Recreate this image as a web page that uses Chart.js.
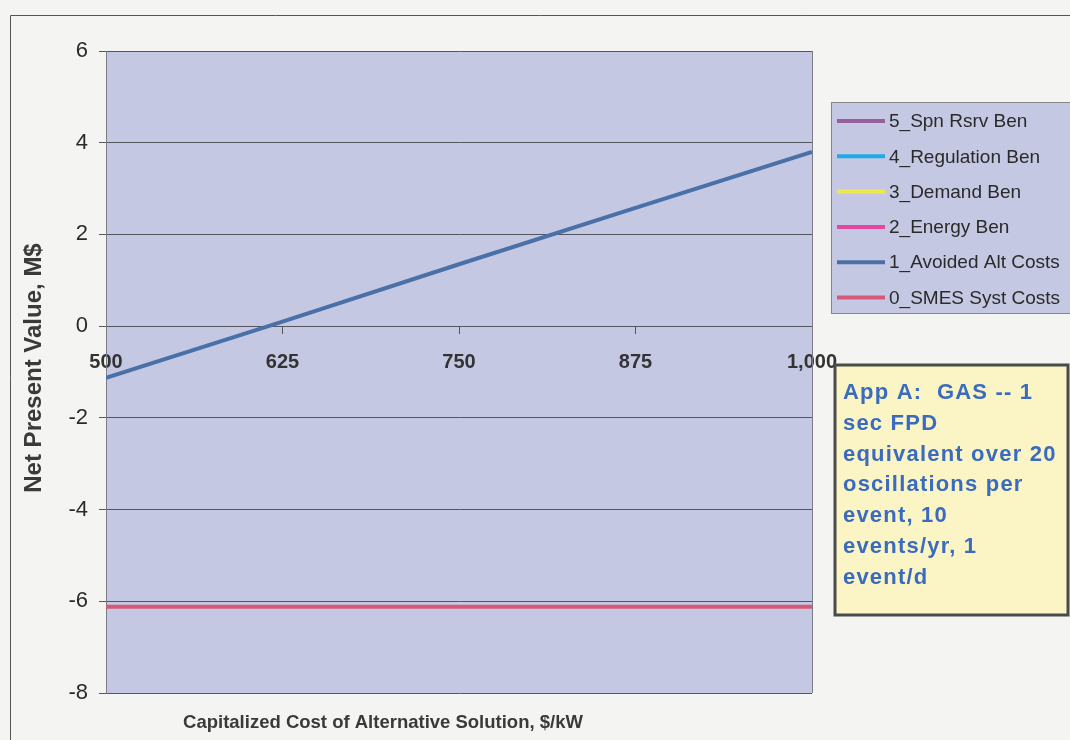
<!DOCTYPE html>
<html>
<head>
<meta charset="utf-8">
<script src="https://cdn.jsdelivr.net/npm/chart.js@4.4.1/dist/chart.umd.min.js"></script>
<style>
  html, body { margin: 0; padding: 0; background: #f4f4f2; }
  canvas { display: block; }
</style>
</head>
<body>
<canvas id="npv" width="1070" height="740"></canvas>
<script>
// Capitalized cost of the alternative solution, $/kW
const costPerKW = [500, 625, 750, 875, 1000];

// Net present value of each component, M$
const smesSystCosts   = [-6.12, -6.12, -6.12, -6.12, -6.12];
const avoidedAltCosts = [-1.13, 0.10, 1.35, 2.58, 3.80];
const energyBen       = [];
const demandBen       = [];
const regulationBen   = [];
const spnRsrvBen      = [];

const seriesNames = [
  '0_SMES Syst Costs',
  '1_Avoided Alt Costs',
  '2_Energy Ben',
  '3_Demand Ben',
  '4_Regulation Ben',
  '5_Spn Rsrv Ben'
];
const seriesColors = ['#d65a78', '#4a70a8', '#e646a0', '#f0e650', '#1eaae6', '#96609a'];

const yTicks = [-8, -6, -4, -2, 0, 2, 4, 6];
const xTicks = [500, 625, 750, 875, 1000];

const xTitle = 'Capitalized Cost of Alternative Solution, $/kW';
const yTitle = 'Net Present Value, M$';
const noteLines = [
  'App A:  GAS -- 1',
  'sec FPD',
  'equivalent over 20',
  'oscillations per',
  'event, 10',
  'events/yr, 1',
  'event/d'
];

const PLOT_BG = '#c5c8e3';
const GRID = '#55555d';
const FONT = "'Liberation Sans', Arial, sans-serif";

function pts(values) {
  return values.map((v, i) => ({ x: costPerKW[i], y: v }));
}
const allSeries = [smesSystCosts, avoidedAltCosts, energyBen, demandBen, regulationBen, spnRsrvBen];

const datasets = allSeries.map((vals, i) => ({
  label: seriesNames[i],
  data: pts(vals),
  borderColor: seriesColors[i],
  backgroundColor: seriesColors[i],
  borderWidth: 4,
  pointRadius: 0,
  fill: false,
  tension: 0
}));

function fmtThousands(v) {
  return String(v).replace(/\B(?=(\d{3})+(?!\d))/g, ',');
}

// Page background, frame and plot area fill
const backdrop = {
  id: 'backdrop',
  beforeDraw(chart) {
    const { ctx, chartArea: a } = chart;
    ctx.save();
    ctx.fillStyle = '#f4f4f2';
    ctx.fillRect(0, 0, chart.width, chart.height);
    ctx.strokeStyle = '#555';
    ctx.lineWidth = 1;
    ctx.beginPath();
    ctx.moveTo(10.5, 740);
    ctx.lineTo(10.5, 15.5);
    ctx.lineTo(1070, 15.5);
    ctx.stroke();
    ctx.fillStyle = PLOT_BG;
    ctx.fillRect(a.left, a.top, a.right - a.left, a.bottom - a.top);
    ctx.restore();
  },
  beforeDatasetsDraw(chart) {
    const { ctx, chartArea: a } = chart;
    ctx.save();
    ctx.strokeStyle = '#7c7c84';
    ctx.lineWidth = 1;
    ctx.beginPath();
    ctx.moveTo(Math.round(a.right) + 0.5, a.top);
    ctx.lineTo(Math.round(a.right) + 0.5, a.bottom);
    ctx.stroke();
    ctx.restore();
  }
};

// Axis titles, legend box and note box
const decorations = {
  id: 'decorations',
  afterDraw(chart) {
    const { ctx } = chart;
    ctx.save();

    // axis titles
    ctx.fillStyle = '#3a3a3a';
    ctx.font = `bold 18.5px ${FONT}`;
    ctx.textAlign = 'center';
    ctx.textBaseline = 'middle';
    ctx.fillText(xTitle, 383, 723);

    ctx.save();
    ctx.translate(34, 368);
    ctx.rotate(-Math.PI / 2);
    ctx.font = `bold 24px ${FONT}`;
    ctx.fillText(yTitle, 0, 0);
    ctx.restore();

    // legend
    const lx = 831.5, ly = 102.5, lw = 260, lh = 211;
    ctx.fillStyle = PLOT_BG;
    ctx.fillRect(lx, ly, lw, lh);
    ctx.strokeStyle = '#85858c';
    ctx.lineWidth = 1;
    ctx.strokeRect(lx, ly, lw, lh);
    ctx.font = `19px ${FONT}`;
    ctx.textAlign = 'left';
    ctx.textBaseline = 'middle';
    const order = chart.data.datasets.map((d, i) => i).reverse();
    order.forEach((di, row) => {
      const ds = chart.data.datasets[di];
      const y = 121 + row * 35.3;
      ctx.strokeStyle = ds.borderColor;
      ctx.lineWidth = 4;
      ctx.beginPath();
      ctx.moveTo(837, y);
      ctx.lineTo(885, y);
      ctx.stroke();
      ctx.fillStyle = '#2a2a2a';
      ctx.fillText(ds.label, 889, y + 1);
    });

    // note box
    const nx = 835, ny = 365, nw = 233, nh = 250;
    ctx.fillStyle = '#fbf5c6';
    ctx.fillRect(nx, ny, nw, nh);
    ctx.strokeStyle = '#4a4a4a';
    ctx.lineWidth = 3;
    ctx.strokeRect(nx, ny, nw, nh);
    ctx.fillStyle = '#3a6bbf';
    ctx.font = `bold 22px ${FONT}`;
    if ('letterSpacing' in ctx) ctx.letterSpacing = '1.2px';
    noteLines.forEach((t, i) => {
      ctx.fillText(t, 843, 393 + i * 30.8);
    });
    ctx.restore();
  }
};

new Chart(document.getElementById('npv'), {
  type: 'line',
  data: { datasets },
  options: {
    responsive: false,
    animation: false,
    devicePixelRatio: 1,
    layout: { padding: { left: 0, top: 51, right: 258, bottom: 47 } },
    plugins: {
      legend: { display: false },
      tooltip: { enabled: false },
      title: { display: false }
    },
    scales: {
      x: {
        type: 'linear',
        position: { y: 0 },
        min: 500,
        max: 1000,
        afterBuildTicks(scale) {
          scale.ticks = xTicks.map(v => ({ value: v }));
        },
        grid: {
          drawOnChartArea: false,
          drawTicks: true,
          tickLength: 7,
          color: GRID,
          lineWidth: 1
        },
        border: { display: true, color: GRID, width: 1 },
        ticks: {
          autoSkip: false,
          maxRotation: 0,
          padding: 17,
          color: '#333',
          font: { family: FONT, size: 20, weight: 'bold' },
          callback: v => fmtThousands(v)
        }
      },
      y: {
        type: 'linear',
        position: 'left',
        min: -8,
        max: 6,
        afterBuildTicks(scale) {
          scale.ticks = yTicks.map(v => ({ value: v }));
        },
        afterFit(scale) { scale.width = 106; },
        grid: {
          color: GRID,
          lineWidth: 1,
          tickLength: 7,
          drawTicks: true
        },
        border: { display: true, color: '#7c7c84', width: 1 },
        ticks: {
          padding: 11,
          color: '#2a2a2a',
          font: { family: FONT, size: 22 },
          callback: v => String(v)
        }
      }
    }
  },
  plugins: [backdrop, decorations]
});
</script>
</body>
</html>
